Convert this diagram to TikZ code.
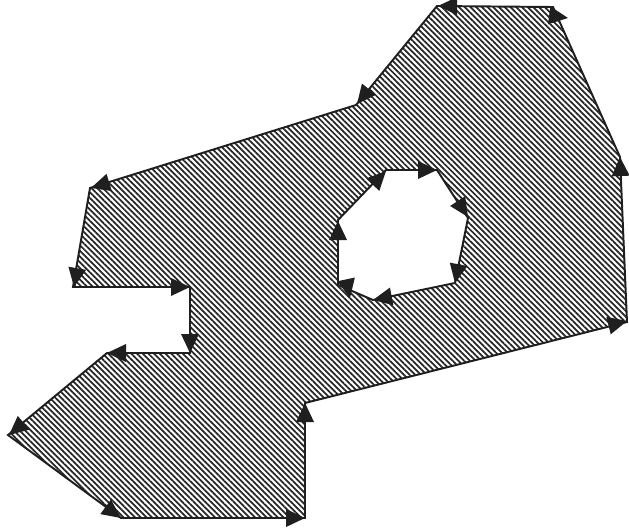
\documentclass[tikz,border=0pt]{standalone}
\usetikzlibrary{patterns.meta}
\begin{document}
\begin{tikzpicture}[x=0.02cm, y=-0.02cm,
  region/.style={draw=black!88, line width=1.1pt, even odd rule,
    pattern={Lines[angle=-45, distance=2.3pt, line width=1pt]}, pattern color=black!85},
  tiphead/.style={fill=black!88}
]
  \useasboundingbox (0,0) rectangle (629,531);

  % outer boundary
  \foreach \n/\x/\y in {A/437/6, F/356/105, G/90/188, H/73/287, I/190/287, J/190/353,
                        K/107/353, L/8/435, M/121/518, N/305/518, E/305/403,
                        D/627/322, C/620/157, B/553/7} {
    \coordinate (\n) at (\x,\y);
  }
  % hole
  \foreach \n/\x/\y in {P1/386/170, P2/437/170, P3/468/218, P4/455/283,
                        P5/373/300, P6/338/285, P7/338/220} {
    \coordinate (\n) at (\x,\y);
  }

  \draw[region] (A) -- (F) -- (G) -- (H) -- (I) -- (J) -- (K) -- (L) -- (M)
    -- (N) -- (E) -- (D) -- (C) -- (B) -- cycle
    (P1) -- (P2) -- (P3) -- (P4) -- (P5) -- (P6) -- (P7) -- cycle;

  % arrow heads: tip x / tip y / direction
  \foreach \x/\y/\a in {438/6/180, 568/18/-8, 620/157/92, 627/321/14, 305/403/90,
                        305/518/0, 121/518/-36, 9/435/-140, 107/353/180, 190/353/-90,
                        190/287/0, 74/287/-100, 91/188/-163, 357/104/-129,
                        437/170/0, 468/217/-57, 455/283/-101, 373/300/-169,
                        350/298/-78, 338/221/90, 386/171/46} {
    \fill[tiphead, shift={(\x,\y)}, rotate=\a] (0,0) -- (-19,9) -- (-19,-9) -- cycle;
  }
\end{tikzpicture}
\end{document}
